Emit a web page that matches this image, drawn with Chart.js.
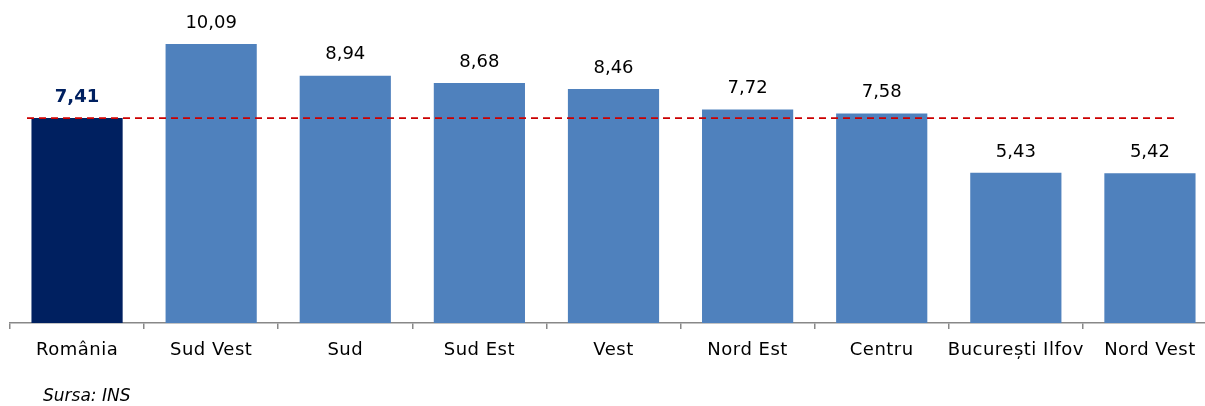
<!DOCTYPE html>
<html><head><meta charset="utf-8">
<script src="https://cdn.jsdelivr.net/npm/chart.js@4"></script>
<style>html,body{margin:0;padding:0;background:#fff;overflow:hidden;}#wrap{position:relative;width:1205px;height:406px;overflow:hidden;}
#src{position:absolute;left:43px;top:385px;font:italic 17px "DejaVu Sans";color:#000;}</style>
</head><body>
<div id="wrap"><canvas id="c" width="1217" height="406"></canvas><div id="src">Sursa: INS</div></div>
<script>
const categories = ["România","Sud Vest","Sud","Sud Est","Vest","Nord Est","Centru","București Ilfov","Nord Vest"];
const values = [7.41,10.09,8.94,8.68,8.46,7.72,7.58,5.43,5.42];
const valueLabels = ["7,41","10,09","8,94","8,68","8,46","7,72","7,58","5,43","5,42"];
const referenceValue = 7.41;

const barColors = categories.map((c,i)=> i===0 ? '#002060' : '#4F81BD');

const labelPlugin = {
  id:'labels',
  beforeDraw(chart){ chart.ctx.letterSpacing = '0.5px'; },
  afterDatasetsDraw(chart){
    const ctx = chart.ctx;
    const meta = chart.getDatasetMeta(0);
    const y = chart.scales.y;
    const ca = chart.chartArea;
    const yy = y.getPixelForValue(referenceValue);
    ctx.save();
    ctx.strokeStyle = '#CC0000';
    ctx.lineWidth = 1.6;
    ctx.setLineDash([7,5]);
    ctx.beginPath();
    ctx.moveTo(ca.left + 17, yy);
    ctx.lineTo(ca.right - 42, yy);
    ctx.stroke();
    ctx.restore();
    ctx.save();
    ctx.letterSpacing = '0px';
    ctx.textAlign = 'center';
    ctx.textBaseline = 'middle';
    meta.data.forEach((bar,i)=>{
      ctx.font = (i===0 ? 'bold ' : '') + '18px "DejaVu Sans"';
      ctx.fillStyle = i===0 ? '#002060' : '#000';
      ctx.fillText(valueLabels[i], bar.x, bar.y - 21);
    });
    ctx.restore();
  }
};

new Chart(document.getElementById('c'), {
  type:'bar',
  data:{labels:categories, datasets:[{data:values, backgroundColor:barColors, categoryPercentage:1, barPercentage:0.68}]},
  options:{
    responsive:false, animation:false,
    layout:{padding:{left:10,right:0,top:5,bottom:0}},
    plugins:{legend:{display:false}, tooltip:{enabled:false}},
    scales:{
      y:{display:false, min:0, max:11.5},
      x:{
        afterFit(s){ s.height = 83; },
        border:{display:true,color:'#888',width:1.5},
        grid:{display:true, drawOnChartArea:false, offset:true, color:'#888', tickLength:6, lineWidth:1.5},
        ticks:{color:'#000', font:{family:'"DejaVu Sans"', size:18}, padding:11, maxRotation:0, autoSkip:false}
      }
    }
  },
  plugins:[labelPlugin]
});
</script>
</body></html>
